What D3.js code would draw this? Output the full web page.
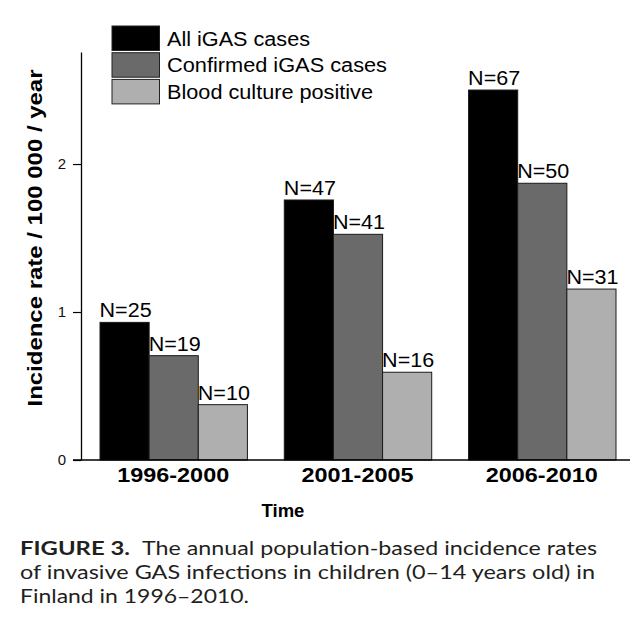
<!DOCTYPE html>
<html>
<head>
<meta charset="utf-8">
<script src="https://cdn.jsdelivr.net/npm/d3@7"></script>
<style>
  html, body { margin: 0; padding: 0; background: #fff; }
  svg { display: block; }
</style>
</head>
<body>
<svg id="chart" width="630" height="618"></svg>
<script>
// ---- data ----
const periods = ["1996-2000", "2001-2005", "2006-2010"];
const seriesNames = ["All iGAS cases", "Confirmed iGAS cases", "Blood culture positive"];
const allCases = [0.93, 1.757, 2.50];
const confirmedCases = [0.705, 1.525, 1.87];
const bloodCulture = [0.374, 0.593, 1.155];
const allN = [25, 47, 67];
const confirmedN = [19, 41, 50];
const bloodN = [10, 16, 31];
const yTicks = [0, 1, 2];
const seriesColors = ["#000000", "#6a6a6a", "#afafaf"];
const yTitle = "Incidence rate / 100 000 / year";
const xTitle = "Time";
const captionBold = "FIGURE 3.";
const captionLines = [
  "The annual population-based incidence rates",
  "of invasive GAS infections in children (0\u201314 years old) in",
  "Finland in 1996\u20132010."
];

const seriesValues = [allCases, confirmedCases, bloodCulture];
const seriesN = [allN, confirmedN, bloodN];

const svg = d3.select("#chart");
const arial = "'Liberation Sans', Arial, Helvetica, sans-serif";
const capFont = "Lato, 'Open Sans', sans-serif";

const x = d3.scaleBand().domain(periods).range([100, 616]).paddingInner(0.2).paddingOuter(0);
const xSub = d3.scaleBand().domain(d3.range(seriesNames.length)).range([0, x.bandwidth()]).padding(0);
const y = d3.scaleLinear().domain([0, 2.757]).range([460, 52]);

function fit(sel, w) {
  sel.attr("textLength", w).attr("lengthAdjust", "spacingAndGlyphs");
}
function stretch(sel, k) {
  sel.each(function() {
    const len = this.getComputedTextLength();
    d3.select(this).attr("textLength", len * k).attr("lengthAdjust", "spacingAndGlyphs");
  });
}

// bars
const groups = svg.append("g").selectAll("g")
  .data(periods).join("g")
  .attr("transform", d => `translate(${x(d)},0)`);

groups.each(function(p, pi) {
  const g = d3.select(this);
  seriesValues.forEach((vals, si) => {
    g.append("rect")
      .attr("x", xSub(si))
      .attr("y", y(vals[pi]))
      .attr("width", xSub.bandwidth())
      .attr("height", y(0) - y(vals[pi]))
      .attr("fill", seriesColors[si])
      .attr("stroke", "#1a1a1a")
      .attr("stroke-width", 1);
    g.append("text")
      .attr("x", xSub(si) + xSub.bandwidth() / 2 + 1)
      .attr("y", y(vals[pi]) - 5)
      .attr("text-anchor", "middle")
      .attr("font-family", arial)
      .attr("font-size", 20.5)
      .attr("fill", "#000")
      .text("N=" + seriesN[si][pi])
      .call(stretch, 1.05);
  });
});

// y axis
const yAxis = svg.append("g")
  .attr("transform", "translate(81,0)")
  .call(d3.axisLeft(y).tickValues(yTicks).tickFormat(d3.format("d")).tickSize(8).tickPadding(7).tickSizeOuter(0));
yAxis.select(".domain").attr("stroke", "#000").attr("stroke-width", 1.3);
yAxis.selectAll(".tick line").attr("stroke", "#000").attr("stroke-width", 1.2);
yAxis.selectAll(".tick text").attr("font-family", arial).attr("font-size", 15).attr("fill", "#111");

// x axis line
svg.append("line")
  .attr("x1", 73).attr("x2", 630)
  .attr("y1", y(0)).attr("y2", y(0))
  .attr("stroke", "#000").attr("stroke-width", 1.3);

// x tick labels
svg.append("g").selectAll("text")
  .data(periods).join("text")
  .attr("x", d => x(d) + x.bandwidth() / 2 - 0.5)
  .attr("y", 482)
  .attr("text-anchor", "middle")
  .attr("font-family", arial)
  .attr("font-weight", "bold")
  .attr("font-size", 20)
  .attr("fill", "#000")
  .text(d => d)
  .call(fit, 112);

// x title
svg.append("text")
  .attr("x", 283).attr("y", 517)
  .attr("text-anchor", "middle")
  .attr("font-family", arial).attr("font-weight", "bold").attr("font-size", 18.5)
  .attr("fill", "#000")
  .text(xTitle);

// y title
svg.append("text")
  .attr("transform", "translate(42,238) rotate(-90)")
  .attr("text-anchor", "middle")
  .attr("font-family", arial).attr("font-weight", "bold").attr("font-size", 21)
  .attr("fill", "#000")
  .text(yTitle)
  .call(fit, 337);

// legend
const legend = svg.append("g").attr("transform", "translate(112,26)");
const legendWidths = [143, 220, 206];
seriesNames.forEach((name, i) => {
  legend.append("rect")
    .attr("x", 0).attr("y", i * 26.7)
    .attr("width", 47.5).attr("height", 24.5)
    .attr("fill", seriesColors[i])
    .attr("stroke", "#222").attr("stroke-width", 1);
  legend.append("text")
    .attr("x", 55).attr("y", i * 26.7 + 19.5)
    .attr("font-family", arial).attr("font-size", 20)
    .attr("fill", "#000")
    .text(name)
    .call(fit, legendWidths[i]);
});

// caption
const cap = svg.append("g").attr("fill", "#231f20");
cap.append("text")
  .attr("x", 20).attr("y", 555)
  .attr("font-family", capFont).attr("font-weight", "bold").attr("font-size", 19.5)
  .text(captionBold).call(fit, 110);
const capX = [142, 20, 20];
const capY = [555, 579, 603];
const capW = [455, 575, 229];
captionLines.forEach((line, i) => {
  cap.append("text")
    .attr("x", capX[i]).attr("y", capY[i])
    .attr("font-family", capFont).attr("font-size", 19.5)
    .text(line).call(fit, capW[i]);
});
</script>
</body>
</html>
